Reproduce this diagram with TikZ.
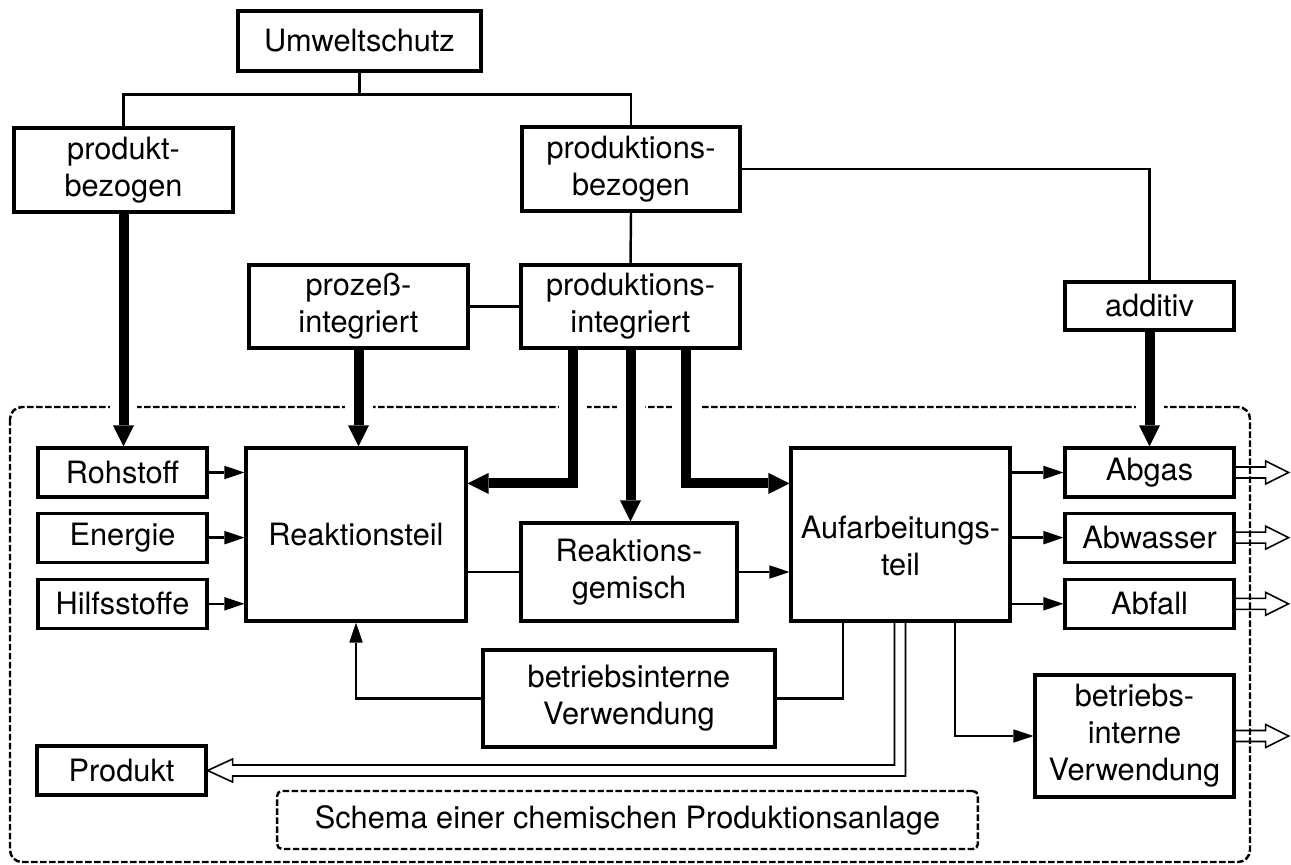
\documentclass[tikz,border=0pt]{standalone}
\usepackage{fontspec}
\setmainfont{TeX Gyre Heros}
\usepackage{tikz}
\usetikzlibrary{positioning, arrows.meta, calc}

\tikzset{
  box/.style={draw, line width=1.8pt, inner sep=0pt, align=center,
              font=\fontsize{17.5}{21}\selectfont},
  smallbox/.style={box, minimum width=3.38cm, minimum height=0.98cm},
  link/.style={line width=1.4pt},
  flow/.style={line width=1.4pt, -{Triangle[length=0.4cm, width=0.27cm, line width=0pt]}},
  bigflow/.style={line width=0.2cm, -{Triangle[length=0.42cm, width=0.42cm, line width=0pt]},
                  preaction={draw=white, line width=0.56cm, arrows=-,
                             shorten <=0.4cm, shorten >=0.4cm}},
  hollow/.style={line width=0.9pt, line join=miter},
  frame/.style={line width=1.4pt, dash pattern=on 0.13cm off 0.05cm},
}

\begin{document}
\begin{tikzpicture}[x=0.02cm, y=-0.02cm]
  \useasboundingbox (0,0) rectangle (1291,865);

  % Anlage
  \draw[frame, rounded corners=0.24cm] (10,407) rectangle (1250,862);

  % obere Ebenen
  \node[box, minimum width=4.86cm, minimum height=1.2cm] (umwelt) at (359.5,41) {Umweltschutz};
  \node[box, minimum width=4.38cm, minimum height=1.68cm] (produktbez) at (123.5,170) {produkt-\\bezogen};
  \node[box, minimum width=4.36cm, minimum height=1.68cm] (produktionsbez) at (631,169) {produktions-\\bezogen};
  \node[box, minimum width=4.38cm, minimum height=1.66cm] (prozessint) at (358.5,306.5) {prozeß-\\integriert};
  \node[box, minimum width=4.38cm, minimum height=1.66cm] (produktionsint) at (630.5,306.5) {produktions-\\integriert};
  \node[box, minimum width=3.38cm, minimum height=0.96cm] (additiv) at (1149.5,306) {additiv};

  % Produktionsanlage
  \node[smallbox] (rohstoff) at (122.5,472.5) {Rohstoff};
  \node[smallbox, below=0.26cm of rohstoff] (energie) {Energie};
  \node[smallbox, below=0.28cm of energie] (hilfsstoffe) {Hilfsstoffe};
  \node[box, minimum width=4.4cm, minimum height=3.46cm] (reaktion) at (356,534.5) {Reaktionsteil};
  \node[box, minimum width=4.32cm, minimum height=1.96cm] (gemisch) at (629,572) {Reaktions-\\gemisch};
  \node[box, minimum width=4.38cm, minimum height=3.46cm] (aufarbeitung) at (900.5,534.5)
    {\rule{0pt}{0.9cm}Aufarbeitungs-\\teil};
  \node[smallbox] (abgas) at (1149.5,472.5) {Abgas};
  \node[smallbox, below=0.26cm of abgas] (abwasser) {Abwasser};
  \node[smallbox, below=0.28cm of abwasser] (abfall) {Abfall};
  \node[box, minimum width=5.84cm, minimum height=1.94cm] (internlinks) at (629,698.5) {betriebsinterne\\Verwendung};
  \node[box, minimum width=3.98cm, minimum height=2.44cm] (internrechts) at (1134.5,736) {betriebs-\\interne\\Verwendung};
  \node[smallbox] (produkt) at (121.5,770.5) {Produkt};
  \node[box, frame, rounded corners=0.1cm, minimum width=14.02cm, minimum height=1.16cm] (schema) at (627.5,820)
    {Schema einer chemischen Produktionsanlage};

  % Gliederung
  \draw[link] (umwelt.south) -- ++(0,22) coordinate (gabel);
  \draw[link] (produktbez.north) |- (gabel) -| (produktionsbez.north);
  \draw[link] (produktionsbez.east) -| (additiv.north);
  \draw[link] (produktionsbez.south) -- (produktionsint.north);
  \draw[link] (prozessint.east) -- (produktionsint.west);

  % Eingriffe
  \draw[bigflow] (produktbez.south) -- (produktbez.south |- rohstoff.north);
  \draw[bigflow] (prozessint.south) -- (prozessint.south |- reaktion.north);
  \draw[bigflow] ($(produktionsint.south)+(-58,0)$) |- ($(reaktion.north east)+(0,37)$);
  \draw[bigflow] (produktionsint.south) -- (produktionsint.south |- gemisch.north);
  \draw[bigflow] ($(produktionsint.south)+(55,0)$) |- ($(aufarbeitung.north west)+(0,37)$);
  \draw[bigflow] (additiv.south) -- (abgas.north);

  % Stoffstroeme
  \foreach \q in {rohstoff, energie, hilfsstoffe}
    \draw[flow] (\q.east) -- (\q.east -| reaktion.west);
  \foreach \z in {abgas, abwasser, abfall}
    \draw[flow] (\z.west -| aufarbeitung.east) -- (\z.west);
  \draw[link] (gemisch.west -| reaktion.east) -- (gemisch.west);
  \draw[flow] (gemisch.east) -- (gemisch.east -| aufarbeitung.west);
  \draw[link] ($(aufarbeitung.south)+(-57.5,0)$) |- (internlinks.east);
  \draw[flow] (internlinks.west) -| (reaktion.south);
  \draw[flow] ($(aufarbeitung.south)+(54.5,0)$) |- (internrechts.west);

  % Abgaben nach aussen
  \foreach \z in {abgas, abwasser, abfall, internrechts}
    \draw[hollow] ($(\z.east)+(0,-5.5)$) -- ++(30,0) -- ++(0,-6) -- ++(23,11.5)
      -- ++(-23,11.5) -- ++(0,-6) -- ++(-30,0);
  \draw[hollow] ($(aufarbeitung.south)+(-6,0)$) |- ($(produkt.east)+(25,-5.5)$) -- ++(0,-6)
    -- (produkt.east) -- ++(25,11.5) -- ++(0,-6) -| ($(aufarbeitung.south)+(5,0)$);
\end{tikzpicture}
\end{document}
